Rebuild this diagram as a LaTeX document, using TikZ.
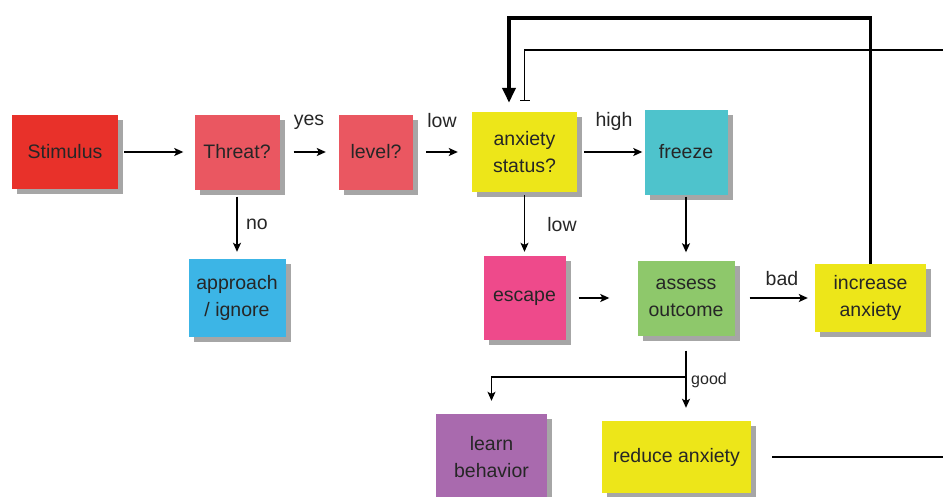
\documentclass[tikz,border=0pt]{standalone}
\usepackage{fontspec}
\setmainfont{Liberation Sans}
\usepackage{xcolor}
\usetikzlibrary{arrows.meta,shadows}
\definecolor{stimred}{HTML}{E8312A}
\definecolor{askpink}{HTML}{EA5761}
\definecolor{anxyellow}{HTML}{EDE619}
\definecolor{freezeteal}{HTML}{4EC3CC}
\definecolor{ignoreblue}{HTML}{3CB5E6}
\definecolor{escapepink}{HTML}{EE4A8B}
\definecolor{assessgreen}{HTML}{8EC86B}
\definecolor{learnpurple}{HTML}{A96AAE}

\begin{document}
\begin{tikzpicture}[x=1pt,y=-1pt,
box/.style={inner sep=2pt,align=center,text=black!85,
 font=\fontsize{19.5}{27.5}\selectfont,
 drop shadow={shadow xshift=5pt,shadow yshift=-5pt,opacity=.35,fill=black}},
flow/.style={-{Stealth[length=9pt,width=8pt,inset=2pt]},line width=1.3pt},
bigflow/.style={-{Triangle[length=15pt,width=13pt]},line width=3.8pt},
lbl/.style={font=\fontsize{19.5}{22}\selectfont,text=black!85,inner sep=0pt}]
\clip (0,0) rectangle (943,496);
\fill[white] (0,0) rectangle (943,496);
\node[box,fill=stimred,minimum width=106pt,minimum height=74pt] (stim) at (65,152) {Stimulus};
\node[box,fill=askpink,minimum width=85pt,minimum height=75pt] (threat) at (237,152) {Threat?};
\node[box,fill=askpink,minimum width=74pt,minimum height=75pt] (level) at (376,152) {level?};
\node[box,fill=anxyellow,minimum width=105pt,minimum height=80pt] (anx) at (524.5,152) {anxiety\\status?};
\node[box,fill=freezeteal,minimum width=83pt,minimum height=85pt] (freeze) at (686,152) {freeze};
\node[box,fill=ignoreblue,minimum width=97pt,minimum height=78pt] (ignore) at (237,298) {approach\\/ ignore};
\node[box,fill=escapepink,minimum width=82pt,minimum height=84pt] (escape) at (524.5,298) {escape};
\node[box,fill=assessgreen,minimum width=97pt,minimum height=75pt] (assess) at (686,298) {assess\\outcome};
\node[box,fill=anxyellow,minimum width=111pt,minimum height=68pt] (incr) at (870.5,298) {increase\\anxiety};
\node[box,fill=learnpurple,minimum width=111pt,minimum height=86pt] (learn) at (491.5,457) {learn\\behavior};
\node[box,fill=anxyellow,minimum width=149pt,minimum height=72pt] (reduce) at (676.5,457) {reduce anxiety};

\node[lbl] (yes) at (309,122) {yes};
\node[lbl] (lowa) at (442,121) {low};
\node[lbl] (high) at (614,121) {high};
\node[lbl] (no) at (257,224) {no};
\node[lbl] (lowb) at (562,225) {low};
\node[lbl] (bad) at (782,279) {bad};
\node[lbl,font=\fontsize{16}{18}\selectfont] (good) at (709,380) {good};

\coordinate (fork) at (686,377);
\coordinate (upleft) at (509,18);
\coordinate (inhin) at (943,50);
\coordinate (outr) at (943,457);

\draw[flow,shorten <=6pt,shorten >=11pt] (stim) -- (threat);
\draw[flow,shorten <=14pt,shorten >=13pt] (threat) -- (level);
\draw[flow,shorten <=13pt,shorten >=14pt] (level) -- (anx);
\draw[flow,shorten <=7pt,shorten >=2pt] (anx) -- (freeze);
\draw[flow,shorten <=7pt,shorten >=7pt] (threat) -- (ignore);
\draw[flow,shorten <=3pt,shorten >=4pt] (anx) -- (escape);
\draw[flow,shorten <=2pt,shorten >=8pt] (freeze) -- (assess);
\draw[flow,shorten <=13pt,shorten >=28pt] (escape) -- (assess);
\draw[flow,shorten <=15pt,shorten >=7pt] (assess) -- (incr);
\draw[flow,shorten <=15pt,shorten >=13pt] (assess) -- (assess |- reduce.north);
\draw[flow,shorten >=13pt] (fork) -| (learn.north);
\draw[bigflow,shorten >=9pt] (incr.north) |- (upleft) -- (upleft |- anx.north);
\draw[-{Bar[width=10pt,line width=1.3pt]},line width=1.3pt,shorten >=11pt] (inhin) -| (anx.north);
\draw[line width=1.3pt,shorten <=21pt] (reduce) -- (outr);
\end{tikzpicture}
\end{document}
